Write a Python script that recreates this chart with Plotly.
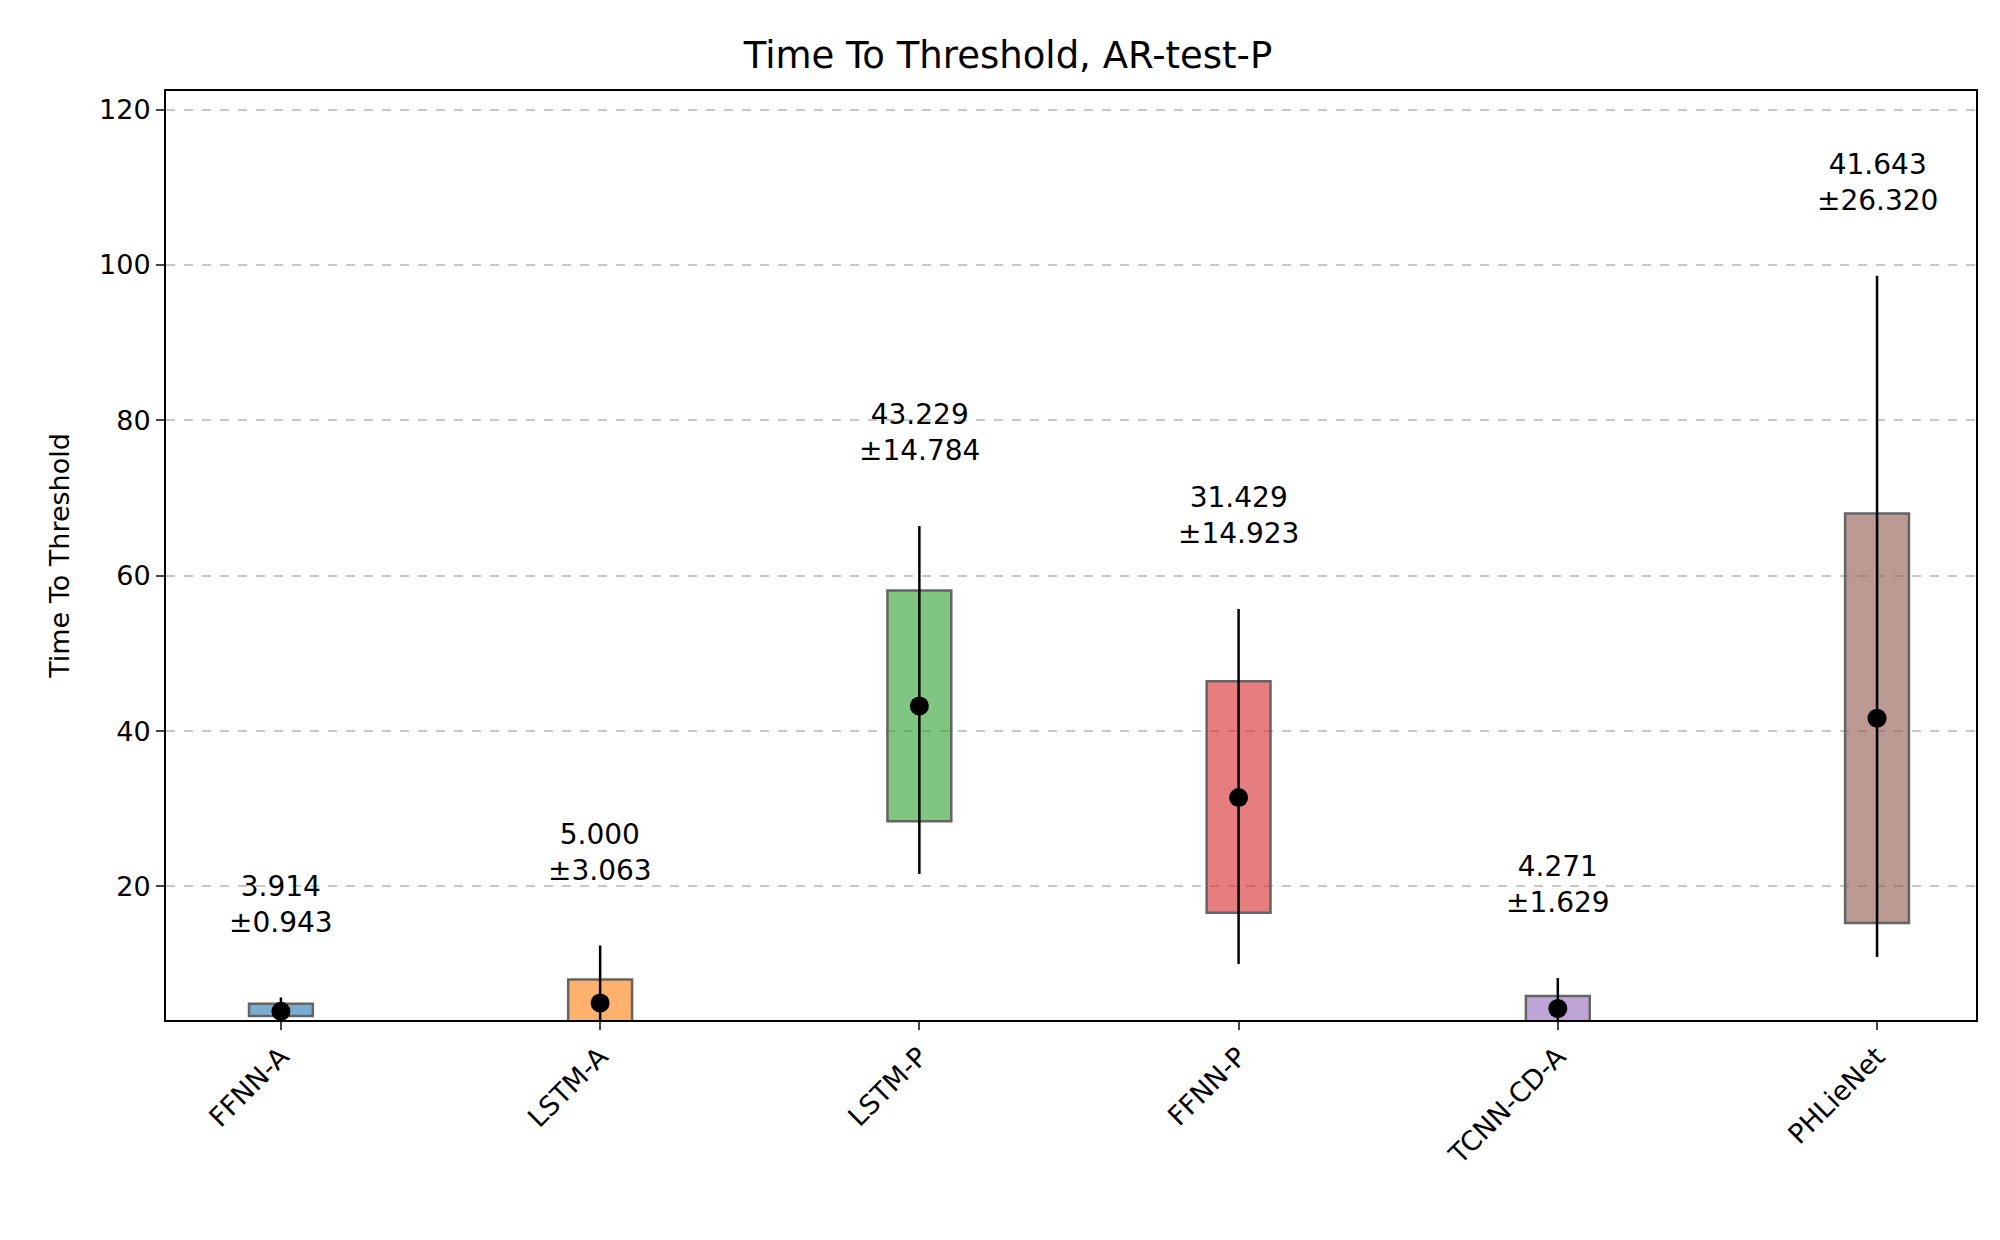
import plotly.graph_objects as go

models = ["FFNN-A", "LSTM-A", "LSTM-P", "FFNN-P", "TCNN-CD-A", "PHLieNet"]
means = [3.914, 5.000, 43.229, 31.429, 4.271, 41.643]
stds = [0.943, 3.063, 14.784, 14.923, 1.629, 26.320]
q_low = [3.3, 2.0, 28.4, 16.6, 2.5, 15.3]
q_high = [4.9, 8.0, 58.1, 46.4, 5.9, 68.0]
w_low = [2.0, 1.5, 21.6, 10.0, 1.5, 10.9]
w_high = [5.7, 12.4, 66.4, 55.7, 8.2, 98.6]
colors = ["rgba(31,119,180,0.6)", "rgba(255,127,14,0.6)", "rgba(44,160,44,0.6)",
          "rgba(214,39,40,0.6)", "rgba(148,103,189,0.6)", "rgba(140,86,75,0.6)"]

xs = list(range(len(models)))
fig = go.Figure()
fig.add_trace(go.Bar(x=xs, y=[h - l for h, l in zip(q_high, q_low)], base=q_low, width=0.2,
                     marker=dict(color=colors, line=dict(color="rgb(100,100,100)", width=2.5)),
                     hoverinfo="skip"))
wx, wy = [], []
for i in xs:
    wx += [i, i, None]
    wy += [w_low[i], w_high[i], None]
fig.add_trace(go.Scatter(x=wx, y=wy, mode="lines", line=dict(color="black", width=2.5)))
fig.add_trace(go.Scatter(x=xs, y=means, mode="markers", marker=dict(color="black", size=19)))
for i in xs:
    fig.add_annotation(x=i, y=w_high[i] + 12, text=f"{means[i]:.3f}<br>±{stds[i]:.3f}",
                       showarrow=False, font=dict(size=28, color="black"), yanchor="middle")

fig.update_layout(
    width=2000, height=1240, showlegend=False, plot_bgcolor="white", paper_bgcolor="white",
    font=dict(family="DejaVu Sans", color="black", size=26),
    title=dict(text="Time To Threshold, AR-test-P", x=0.5, xanchor="center", y=0.962,
               yanchor="middle", font=dict(size=37)),
    margin=dict(l=158, r=32, t=83, b=228),
)
fig.update_xaxes(tickvals=xs, ticktext=models, range=[-0.36, 5.31], tickangle=-45,
                 showline=True, linecolor="black", linewidth=2, mirror=True, ticks="outside",
                 ticklen=8, tickwidth=2, showgrid=False, tickfont=dict(size=27))
fig.update_yaxes(range=[2.8, 122.4], tickvals=[20, 40, 60, 80, 100, 120], showline=True,
                 linecolor="black", linewidth=2, mirror=True, ticks="outside", ticklen=8,
                 tickwidth=2, showgrid=True, gridcolor="rgb(200,200,200)", griddash="dash",
                 gridwidth=1.5, zeroline=False, tickfont=dict(size=27),
                 title=dict(text="Time To Threshold", font=dict(size=27), standoff=22))
fig.write_html("out.html")
